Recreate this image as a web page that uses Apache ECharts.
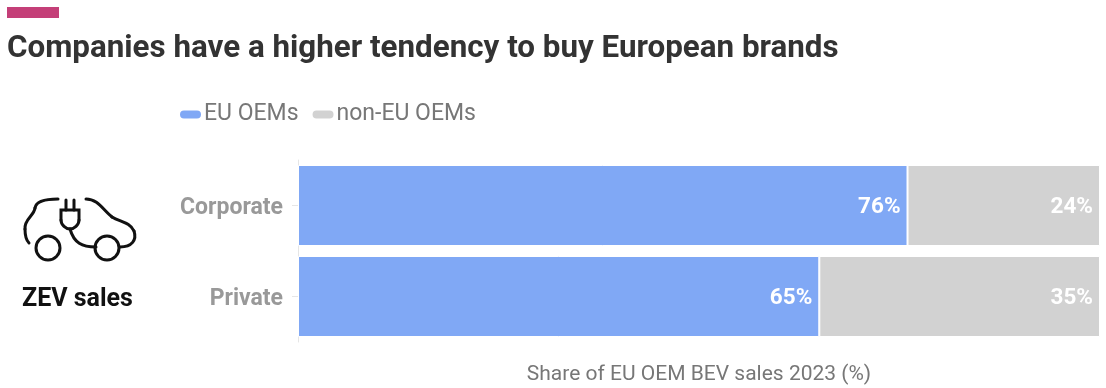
<!DOCTYPE html>
<html>
<head>
<meta charset="utf-8">
<style>html,body{margin:0;padding:0;background:#fff}#chart{width:1106px;height:388px}</style>
<script src="https://cdn.jsdelivr.net/npm/echarts@6/dist/echarts.min.js"></script>
</head>
<body>
<div id="chart"></div>
<script>
const categories = ['Corporate', 'Private'];
const euOems = [76, 65];
const nonEuOems = [24, 35];
const seriesNames = ['EU OEMs', 'non-EU OEMs'];
const titleText = 'Companies have a higher tendency to buy European brands';
const axisTitle = 'Share of EU OEM BEV sales 2023 (%)';
const sideLabel = 'ZEV sales';

const font = 'Roboto, sans-serif';
const iconStroke = { stroke: '#111', lineWidth: 3, fill: null, lineCap: 'round' };

function barSeries(name, values, color) {
  return {
    name, type: 'bar', stack: 'share', data: values, barWidth: 81,
    itemStyle: { color, borderColor: '#fff', borderWidth: 1 },
    label: {
      show: true, position: 'insideRight', distance: 7, offset: [0, 2],
      formatter: '{c}%', color: '#fff',
      fontFamily: font, fontWeight: 'bold', fontSize: 22.5
    },
    emphasis: { disabled: true }
  };
}

// One cubic segment of the car icon: start, two control points, end
function curve(x1, y1, cpx1, cpy1, cpx2, cpy2, x2, y2) {
  return { type: 'bezierCurve', shape: { x1, y1, cpx1, cpy1, cpx2, cpy2, x2, y2 }, style: iconStroke };
}
function line(points) {
  return { type: 'polyline', shape: { points }, style: iconStroke };
}

const chart = echarts.init(document.getElementById('chart'), null, { renderer: 'canvas' });
chart.setOption({
  animation: false,
  backgroundColor: '#fff',
  title: {
    text: titleText, left: 2, top: 29,
    textStyle: { fontFamily: font, fontWeight: 'bold', fontSize: 31.35, color: '#333' }
  },
  legend: {
    left: 173, top: 98, itemWidth: 23, itemHeight: 10, itemGap: 12,
    icon: 'path://M5 0H18A5 5 0 0 1 18 10H5A5 5 0 0 1 5 0Z',
    data: seriesNames,
    textStyle: { fontFamily: font, fontSize: 23, color: '#777', padding: [0, 0, 0, -3] }
  },
  grid: { left: 298, right: 6, top: 160, height: 182, outerBoundsMode: 'none' },
  xAxis: {
    type: 'value', min: 0, max: 100,
    name: axisTitle, nameLocation: 'middle', nameGap: 22,
    nameTextStyle: { fontFamily: font, fontSize: 21, color: '#777' },
    axisLabel: { show: false }, axisLine: { show: false },
    axisTick: { show: false }, splitLine: { show: false }
  },
  yAxis: {
    type: 'category', inverse: true, data: categories,
    axisLine: { show: true, lineStyle: { color: '#e6e6e6' } },
    axisTick: { show: true, alignWithLabel: true, length: 6, lineStyle: { color: '#e6e6e6' } },
    axisLabel: {
      margin: 15,
      formatter: '{cat|{value}}',
      rich: { cat: { fontFamily: font, fontWeight: 'bold', fontSize: 23, color: '#999', padding: [6, 0, 0, 0] } }
    }
  },
  series: [
    barSeries(seriesNames[0], euOems, '#80a8f5'),
    barSeries(seriesNames[1], nonEuOems, '#d2d2d2')
  ],
  graphic: [
    { type: 'rect', shape: { x: 7, y: 7, width: 52, height: 11 }, style: { fill: '#c43f78' } },
    { type: 'text', x: 22, y: 287,
      style: { text: sideLabel, fontFamily: font, fontWeight: 'bold', fontSize: 25, fill: '#111' } },
    // Electric car outline with a plug whose cord runs between the wheels
    curve(58, 199, 46, 199, 36, 201, 35, 208),
    curve(35, 208, 34, 216, 24, 219, 25, 229),
    curve(25, 229, 25, 236, 26, 240, 29, 243),
    curve(86, 199, 98, 199, 103, 210, 112, 217),
    curve(112, 217, 120, 222, 130, 222, 134, 231),
    curve(134, 231, 137, 240, 132, 247, 120, 247),
    { type: 'circle', shape: { cx: 48, cy: 248, r: 12 }, style: iconStroke },
    { type: 'circle', shape: { cx: 107, cy: 248, r: 12 }, style: iconStroke },
    line([[61, 220], [61, 210], [79, 210], [79, 220]]),
    curve(61, 220, 61, 225, 66, 229, 70, 229),
    curve(79, 220, 79, 225, 74, 229, 70, 229),
    line([[66, 200], [66, 210]]),
    line([[74, 200], [74, 210]]),
    curve(70, 229, 74, 243, 82, 247, 96, 247)
  ]
});
</script>
</body>
</html>
